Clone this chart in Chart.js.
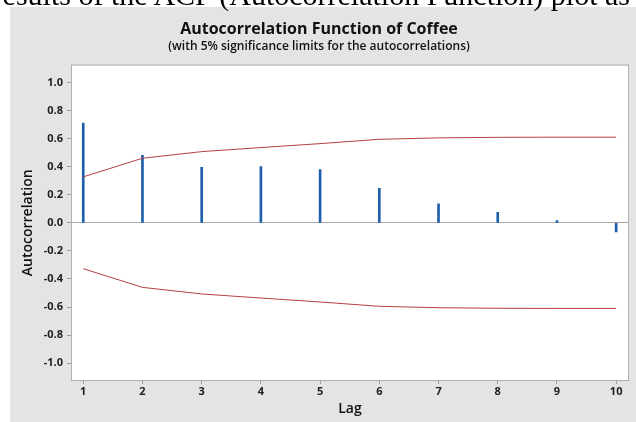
<!DOCTYPE html>
<html>
<head>
<meta charset="utf-8">
<script src="https://cdn.jsdelivr.net/npm/chart.js@4.4.1/dist/chart.umd.min.js"></script>
<style>
    html, body { margin: 0; padding: 0; background: #fff; overflow: hidden; }
    #wrap { position: relative; width: 636px; height: 422px; overflow: hidden; }
    #acfChart { position: absolute; left: 0; top: 0; }
    #pageText {
        position: absolute; right: 6px; top: -20px; white-space: nowrap;
        font-family: "Liberation Serif", serif; font-size: 30px; line-height: 30px; color: #000;
        z-index: 2;
    }
</style>
</head>
<body>
<div id="wrap">
    <div id="pageText">results of the ACF (Autocorrelation Function) plot as</div>
    <canvas id="acfChart" width="636" height="422"></canvas>
</div>
<script>
/* data */
const lags = [1, 2, 3, 4, 5, 6, 7, 8, 9, 10];
const acfValues = [0.71, 0.48, 0.395, 0.40, 0.38, 0.245, 0.135, 0.075, 0.015, -0.065];
const upperLimit = [0.327, 0.46, 0.507, 0.536, 0.564, 0.595, 0.605, 0.609, 0.61, 0.61];
const lowerLimit = upperLimit.map(v => -v);
const yTicks = [-1.0, -0.8, -0.6, -0.4, -0.2, 0.0, 0.2, 0.4, 0.6, 0.8, 1.0];

const labelFont = { family: "'Open Sans', 'Noto Sans', sans-serif", size: 11, weight: "bold" };

/* gray panel + white plot area + border */
const panel = {
    id: "panel",
    beforeDraw(chart) {
        const c = chart.ctx, a = chart.chartArea;
        c.save();
        c.fillStyle = "#e4e4e4";
        c.fillRect(10, 7, chart.width - 10, chart.height - 7);
        c.fillStyle = "#ffffff";
        c.fillRect(a.left, a.top, a.right - a.left, a.bottom - a.top);
        c.restore();
    },
    afterDraw(chart) {
        const c = chart.ctx, a = chart.chartArea;
        c.save();
        c.strokeStyle = "#b0b0b0";
        c.lineWidth = 1;
        c.strokeRect(a.left - 0.5, a.top - 0.5, a.right - a.left + 1, a.bottom - a.top + 1);
        c.restore();
    }
};

const ctx = document.getElementById("acfChart");

new Chart(ctx, {
    data: {
        datasets: [{
            type: "bar",
            data: lags.map((l, i) => ({ x: l, y: acfValues[i] })),
            backgroundColor: "#1f5faa",
            barThickness: 2,
            order: 2
        }, {
            type: "line",
            data: lags.map((l, i) => ({ x: l, y: upperLimit[i] })),
            borderColor: "#b5403f",
            borderWidth: 1,
            pointRadius: 0,
            tension: 0,
            order: 1
        }, {
            type: "line",
            data: lags.map((l, i) => ({ x: l, y: lowerLimit[i] })),
            borderColor: "#b5403f",
            borderWidth: 1,
            pointRadius: 0,
            tension: 0,
            order: 1
        }]
    },
    plugins: [panel],
    options: {
        responsive: false,
        animation: false,
        layout: { padding: { left: 10, right: 8, top: 18, bottom: 0 } },
        plugins: {
            legend: { display: false },
            tooltip: { enabled: false },
            title: {
                display: true,
                text: "Autocorrelation Function of Coffee",
                color: "#111",
                font: { family: "'Open Sans', 'Noto Sans', sans-serif", size: 16, weight: "bold" },
                padding: { top: 2, bottom: 0 }
            },
            subtitle: {
                display: true,
                text: "(with 5% significance limits for the autocorrelations)",
                color: "#111",
                font: { family: "'Open Sans', 'Noto Sans', sans-serif", size: 12, weight: "600" },
                padding: { top: 0, bottom: 12 }
            }
        },
        scales: {
            x: {
                type: "linear",
                min: 0.81,
                max: 10.2,
                offset: false,
                afterBuildTicks: s => { s.ticks = lags.map(v => ({ value: v })); },
                afterFit: s => { s.height = 42; },
                ticks: { color: "#222", font: labelFont, padding: 1, autoSkip: false },
                grid: { offset: false, drawOnChartArea: false, tickLength: 4, tickColor: "#a0a0a0" },
                border: { display: false },
                title: {
                    display: true, text: "Lag", color: "#111",
                    font: { family: "'Open Sans', 'Noto Sans', sans-serif", size: 14, weight: "600" },
                    padding: { top: 0, bottom: 5 }
                }
            },
            y: {
                min: -1.12,
                max: 1.12,
                afterBuildTicks: s => { s.ticks = yTicks.map(v => ({ value: v })); },
                afterFit: s => { s.width = 62; },
                ticks: { color: "#222", font: labelFont, padding: 4, callback: v => v.toFixed(1) },
                grid: {
                    color: c => (c.tick && Math.abs(c.tick.value) < 1e-9) ? "#a8a8a8" : "rgba(0,0,0,0)",
                    tickColor: "#a0a0a0",
                    tickLength: 5
                },
                border: { display: false },
                title: {
                    display: true, text: "Autocorrelation", color: "#111",
                    font: { family: "'Open Sans', 'Noto Sans', sans-serif", size: 14, weight: "600" },
                    padding: { top: 10, bottom: 0 }
                }
            }
        }
    }
});
</script>
</body>
</html>
